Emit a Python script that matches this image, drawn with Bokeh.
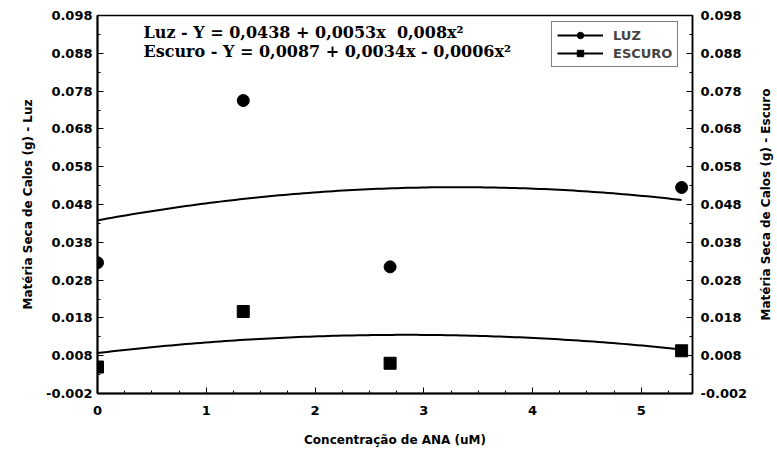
import math
import numpy as np
from bokeh.plotting import figure
from bokeh.layouts import row
from bokeh.models import (LinearAxis, Range1d, FixedTicker, NumeralTickFormatter,
                          Label, Legend, LegendItem)
from bokeh.core.properties import value
from bokeh.embed import file_html
from bokeh.resources import INLINE

# ---- data ----
conc = [0.0, 1.34, 2.69, 5.37]                 # Concentração de ANA (uM)
luz = [0.0326, 0.0755, 0.0315, 0.0525]         # Matéria seca - Luz (g)
escuro = [0.0050, 0.0197, 0.0060, 0.0093]      # Matéria seca - Escuro (g)
luz_coef = [0.0438, 0.0053, -0.0008]           # fitted quadratic (Luz)
escuro_coef = [0.0087, 0.0034, -0.0006]        # fitted quadratic (Escuro)
y_ticks = [-0.002, 0.008, 0.018, 0.028, 0.038, 0.048, 0.058, 0.068, 0.078, 0.088, 0.098]
x_ticks = [0, 1, 2, 3, 4, 5]
eq_luz = "Luz - Y = 0,0438 + 0,0053x\u00a0\u00a00,008x²"
eq_escuro = "Escuro - Y = 0,0087 + 0,0034x - 0,0006x²"
y_label_luz = "Matéria Seca de Calos (g) - Luz"
y_label_escuro = "Matéria Seca de Calos (g) - Escuro"
x_label = "Concentração de ANA (uM)"

# fitted curves evaluated from the printed regression equations
xs = np.linspace(conc[0], conc[-1], 120)
luz_fit = luz_coef[0] + luz_coef[1] * xs + luz_coef[2] * xs ** 2
esc_fit = escuro_coef[0] + escuro_coef[1] * xs + escuro_coef[2] * xs ** 2

SANS = "DejaVu Sans"
SERIF = "DejaVu Serif"

p = figure(width=708, height=453, x_range=Range1d(0, 5.47), y_range=Range1d(-0.002, 0.098),
           output_backend="svg", toolbar_location=None,
           min_border_left=55, min_border_right=57, min_border_top=15, min_border_bottom=60,
           background_fill_color="white", border_fill_color="white")
p.grid.visible = False
p.outline_line_color = "black"
p.outline_line_width = 1.5
p.extra_y_ranges = {"escuro": Range1d(-0.002, 0.098)}

l1 = p.line(xs, luz_fit, line_color="black", line_width=2)
s1 = p.scatter(conc, luz, marker="circle", size=12, fill_color="black", line_color="black")
l2 = p.line(xs, esc_fit, line_color="black", line_width=2)
s2 = p.scatter(conc, escuro, marker="square", size=12, fill_color="black", line_color="black")

minor_y = [t + 0.005 for t in y_ticks[:-1]]
minor_x = [i * 0.25 for i in range(22)]


def style_axis(ax):
    ax.axis_line_color = "black"
    ax.major_tick_line_color = "black"
    ax.minor_tick_line_color = "black"
    ax.major_tick_in = 6
    ax.major_tick_out = 0
    ax.minor_tick_in = 3
    ax.minor_tick_out = 0
    ax.major_label_text_font = SANS
    ax.major_label_text_font_style = "bold"
    ax.major_label_text_font_size = "13px"
    ax.major_label_text_color = "black"
    ax.axis_label_text_font = SANS
    ax.axis_label_text_font_style = "bold"
    ax.axis_label_text_font_size = "12px"
    ax.axis_label_text_color = "black"


xa = p.xaxis[0]
style_axis(xa)
xa.ticker = FixedTicker(ticks=x_ticks, minor_ticks=minor_x)
xa.axis_line_width = 2
xa.axis_label = x_label
xa.major_label_standoff = 12
xa.axis_label_standoff = 15

ya = p.yaxis[0]
style_axis(ya)
ya.ticker = FixedTicker(ticks=y_ticks, minor_ticks=minor_y)
ya.formatter = NumeralTickFormatter(format="0.000")
ya.axis_line_width = 2
ya.major_label_standoff = 5

ra = LinearAxis(y_range_name="escuro")
style_axis(ra)
ra.ticker = FixedTicker(ticks=y_ticks, minor_ticks=minor_y)
ra.formatter = NumeralTickFormatter(format="0.000")
ra.axis_line_width = 1.5
ra.major_label_standoff = 8
p.add_layout(ra, "right")

for txt, yy in [(eq_luz, 361), (eq_escuro, 342)]:
    p.add_layout(Label(x=46, y=yy, x_units="screen", y_units="screen", text=txt,
                       text_font=SERIF, text_font_style="bold", text_font_size="16px",
                       text_baseline="alphabetic", text_color="black"))

legend = Legend(items=[LegendItem(label="LUZ", renderers=[l1, s1]),
                       LegendItem(label="ESCURO", renderers=[l2, s2])],
                location=(454, 326), border_line_color="black", border_line_width=1.5,
                label_text_font=SANS, label_text_font_style="bold", label_text_font_size="13px",
                glyph_width=46, glyph_height=16, padding=5, spacing=2, label_standoff=10,
                label_height=16,
                background_fill_color="white", background_fill_alpha=1.0)
p.add_layout(legend)


# narrow side strips carrying the vertical axis titles (read bottom-to-top)
def title_strip(txt, width, b_left, b_bottom):
    f = figure(width=width, height=453, x_range=Range1d(0, 1), y_range=Range1d(0, 1),
               output_backend="svg", toolbar_location=None,
               x_axis_type=None, y_axis_type=None,
               min_border_left=b_left, min_border_right=0, min_border_top=0,
               min_border_bottom=b_bottom,
               background_fill_color="white", border_fill_color="white")
    f.outline_line_color = None
    f.grid.visible = False
    f.text(x=[0.5], y=[0.5], text=[txt], angle=math.pi / 2,
           text_align="center", text_baseline="middle",
           text_font=value(SANS), text_font_style="bold", text_font_size="12px",
           text_color="black")
    return f


left_strip = title_strip(y_label_luz, 42, 12, 11)
right_strip = title_strip(y_label_escuro, 27, 3, 33)

layout = row(left_strip, p, right_strip, spacing=0)
open("out.html", "w").write(file_html(layout, INLINE))
